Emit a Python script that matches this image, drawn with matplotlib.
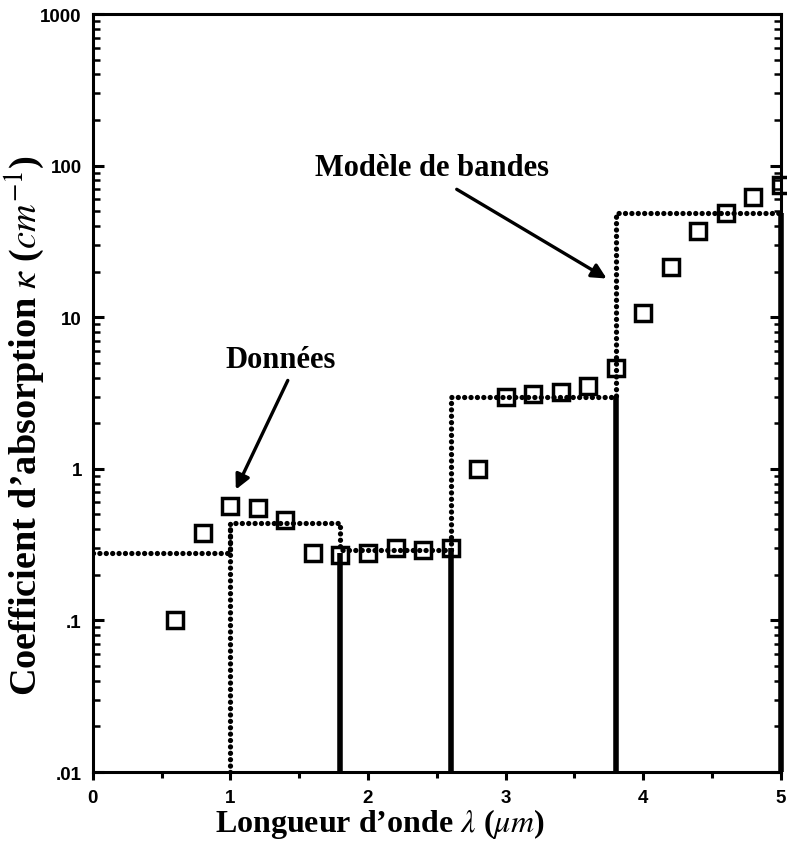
import numpy as np
import matplotlib
matplotlib.use('Agg')
import matplotlib.pyplot as plt
from matplotlib.ticker import FixedLocator, LogLocator, NullFormatter

plt.rcParams['mathtext.fontset'] = 'stix'

# measured data (squares)
lam_data = [0.6, 0.8, 1.0, 1.2, 1.4, 1.6, 1.8, 2.0, 2.2, 2.4, 2.6, 2.8,
            3.0, 3.2, 3.4, 3.6, 3.8, 4.0, 4.2, 4.4, 4.6, 4.8, 5.0]
kappa_data = [0.10, 0.38, 0.57, 0.55, 0.46, 0.28, 0.27, 0.28, 0.30, 0.29, 0.30, 0.99,
              3.0, 3.1, 3.2, 3.5, 4.65, 10.7, 21.3, 37.0, 49.0, 62.0, 74.0]

# band model (step function)
band_edges = [0.0, 1.0, 1.8, 2.6, 3.8, 5.0]
band_kappa = [0.28, 0.44, 0.29, 3.0, 49.0]

# solid drop lines at band limits
drop_x = [1.8, 2.6, 3.8, 5.0]
drop_top = [0.28, 0.30, 3.0, 49.0]

ymin, ymax = 0.01, 1000

fig = plt.figure(figsize=(7.87, 8.54), dpi=100)
ax = fig.add_axes([0.118, 0.0948, 0.874, 0.8876])

# step model, dotted
sx, sy = [], []
for i, k in enumerate(band_kappa):
    sx += [band_edges[i], band_edges[i + 1]]
    sy += [k, k]
dots = dict(color='black', lw=3.8, linestyle=(0, (0.01, 1.2)), dash_capstyle='round')
ax.plot(sx, sy, **dots)
ax.plot([band_edges[1], band_edges[1]], [ymin, band_kappa[1]], **dots)

# solid vertical lines
for x, top in zip(drop_x, drop_top):
    ax.plot([x, x], [ymin, top], color='black', lw=4.0, solid_capstyle='butt', clip_on=False)

ax.plot(lam_data, kappa_data, 's', ms=11.5, mfc='none', mec='black', mew=2.5, clip_on=False)

ax.set_yscale('log')
ax.set_xlim(0, 5)
ax.set_ylim(ymin, ymax)

for s in ax.spines.values():
    s.set_linewidth(2.2)

ax.xaxis.set_major_locator(FixedLocator([0, 1, 2, 3, 4, 5]))
ax.xaxis.set_minor_locator(FixedLocator([0.5, 1.5, 2.5, 3.5, 4.5]))
ax.set_xticklabels(['0', '1', '2', '3', '4', '5'])
ax.yaxis.set_major_locator(FixedLocator([0.01, 0.1, 1, 10, 100, 1000]))
ax.yaxis.set_minor_locator(LogLocator(base=10, subs=np.arange(2, 10)))
ax.yaxis.set_minor_formatter(NullFormatter())
ax.set_yticklabels(['.01', '.1', '1', '10', '100', '1000'])

ax.tick_params(axis='x', which='major', direction='out', length=6, width=2.2, pad=6)
ax.tick_params(axis='x', which='minor', direction='out', length=4, width=2.2)
ax.tick_params(axis='y', which='major', direction='in', length=8, width=2.2,
               right=True, pad=8)
ax.tick_params(axis='y', which='minor', direction='in', length=5, width=1.8, right=True)
for lab in ax.get_xticklabels() + ax.get_yticklabels():
    lab.set_fontfamily('Liberation Sans')
    lab.set_fontweight('bold')
    lab.set_fontsize(13.5)

serif = dict(family='Liberation Serif', weight='bold')
ax.set_xlabel('Longueur d\u2019onde $\\lambda$ ($\\mu m$)', size=23, **serif)
ax.xaxis.set_label_coords(0.417, -0.045, transform=ax.transAxes)
ax.xaxis.label.set_va('top')
ax.set_ylabel('Coefficient d\u2019absorption $\\kappa$ ($cm^{-1}$)', size=27.5, **serif)
ax.yaxis.set_label_coords(-0.067, 0.459, transform=ax.transAxes)

arrow = dict(arrowstyle='-|>', lw=2.4, color='black', mutation_scale=22, shrinkA=0, shrinkB=0)
ax.annotate('', xy=(1.039, 0.73), xytext=(1.417, 3.83), arrowprops=arrow)
ax.text(1.366, 5.3, 'Données', ha='center', va='center', size=22, **serif)
ax.annotate('', xy=(3.735, 18.0), xytext=(2.645, 69.8), arrowprops=arrow)
ax.text(2.464, 97.6, 'Modèle de bandes', ha='center', va='center', size=22, **serif)

fig.savefig('out.png', dpi=100)
